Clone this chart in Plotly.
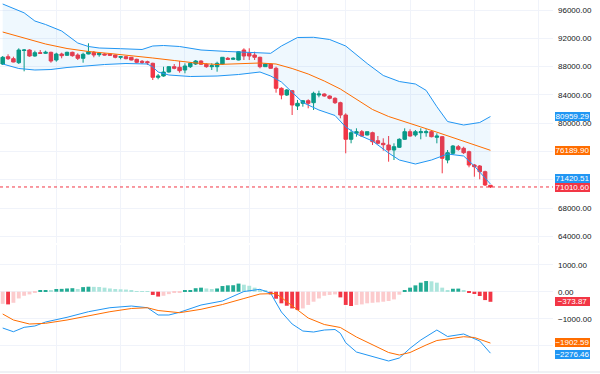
import plotly.graph_objects as go

# ---------------- data ----------------
opens = [88375, 89406, 89124, 88559, 90281, 90352, 89505, 89971, 89886, 90027,
         88940, 89787, 89604, 90027, 89646, 89180, 89787, 90027, 89689, 89787,
         89787, 89646, 89322, 89406, 89322, 89039, 88756, 88700, 88474, 86497,
         86681, 87246, 87994, 87909, 87528, 87994, 88375, 88799, 88333, 87994,
         87994, 88375, 89180, 89039, 88940, 90352, 89886, 89646, 89322, 87994,
         88375, 87768, 84944, 83998, 84605, 82445, 82826, 83193, 82911, 83998,
         84139, 83857, 83532, 82911, 81174, 77743, 78590, 78816, 78350, 78675,
         77545, 77178, 76938, 76232, 76613, 77743, 78816, 78350, 78675, 78675,
         78816, 78025, 78110, 74820, 75766, 76698, 76472, 75992, 74114, 73973,
         73168, 71250]
highs = [89505, 89745, 89406, 90592, 90493, 90451, 90253, 90352, 90253, 90112,
         89971, 89971, 90112, 90112, 89886, 89971, 91297, 90211, 90027, 89886,
         89830, 89680, 89505, 89505, 89364, 89124, 88940, 88841, 88559, 86963,
         87994, 88093, 88375, 88799, 88474, 88615, 88940, 88898, 88474, 88474,
         88700, 89364, 89364, 89322, 90211, 90592, 90592, 90112, 89406, 88474,
         88474, 87994, 85085, 84845, 84704, 83292, 83292, 83391, 84464, 84605,
         84238, 83956, 83673, 83052, 81414, 79155, 79296, 79056, 78816, 78816,
         78209, 77884, 78209, 77178, 77884, 79296, 79155, 79056, 79296, 79155,
         79056, 78590, 78209, 76232, 76938, 76938, 76698, 76133, 74255, 74114,
         73309, 71292]
lows = [88234, 88940, 88615, 88375, 87344, 89406, 89406, 89830, 89787, 88559,
        88700, 89180, 89547, 89406, 88940, 88559, 89745, 89322, 89406, 89604,
        89505, 89180, 89039, 89039, 88898, 88474, 88375, 88234, 86116, 86215,
        86582, 87147, 87627, 87147, 87062, 87810, 88234, 88234, 87853, 87528,
        87288, 88277, 88940, 88940, 88898, 88940, 88940, 88940, 87768, 87952,
        87712, 84323, 83391, 83857, 81174, 81880, 82346, 82120, 81880, 83673,
        83758, 83391, 82727, 80708, 75766, 77178, 78110, 78110, 78300, 76938,
        77037, 76133, 74580, 74820, 76514, 77644, 78110, 78110, 77743, 78110,
        78025, 77178, 72942, 74354, 75526, 76133, 75667, 73789, 72462, 72095,
        71151, 70866]
closes = [89322, 89124, 88658, 90352, 90352, 89505, 89971, 89886, 90027, 88799,
          89787, 89547, 90027, 89547, 89180, 89745, 90112, 89646, 89886, 89646,
          89604, 89322, 89406, 89124, 88940, 88615, 88615, 88559, 86497, 86681,
          87246, 87994, 87768, 87429, 88093, 88474, 88799, 88333, 87994, 88135,
          88474, 89322, 89039, 89180, 90112, 89505, 89505, 89322, 87994, 88375,
          87768, 84944, 83998, 84704, 82586, 82826, 83193, 82826, 84238, 84139,
          83857, 83532, 82911, 81174, 77743, 78675, 78816, 78209, 78816, 77404,
          77178, 76980, 76232, 76698, 77743, 78816, 78209, 78816, 78816, 78816,
          78110, 78209, 75060, 75851, 76797, 76331, 75851, 74114, 73874, 73168,
          71292, 71010.60]

bb_up_idx = [0, 4, 6, 8, 11, 14, 16, 18, 22, 26, 28, 30, 33, 37, 42, 46, 50, 52,
             55, 58, 61, 64, 68, 71, 74, 77, 79, 81, 83, 86, 89, 91]
bb_upper = [96847, 95600, 94447, 93953, 93035, 91340, 90846, 90634, 90535, 90423,
            90917, 90987, 90846, 90352, 90140, 89999, 89886, 90917, 92117, 92145,
            91835, 90917, 88446, 86752, 85900, 85550, 84650, 82346, 80250, 79762,
            80115, 80959.29]
bb_mid_idx = [0, 4, 8, 12, 16, 20, 24, 28, 32, 36, 40, 44, 48, 51, 54, 57, 60, 63,
              66, 69, 72, 75, 78, 81, 84, 87, 91]
bb_middle = [92894, 92046, 91199, 90564, 90140, 89858, 89575, 89222, 88869, 88516,
             88305, 88375, 88516, 88375, 87740, 86963, 85975, 84845, 83433, 81950,
             80962, 80186, 79490, 78750, 78000, 77180, 76189.90]
bb_lo_idx = [0, 3, 6, 9, 12, 15, 19, 23, 27, 28, 29, 31, 35, 40, 44, 48, 50, 52, 54,
             56, 59, 62, 64, 66, 69, 72, 74, 77, 80, 83, 86, 88, 90, 91]
bb_lower = [88375, 87740, 87528, 87599, 87881, 88093, 88305, 88446, 88375, 87952,
            87246, 86822, 86610, 86681, 86893, 87246, 86681, 85834, 84422, 82939,
            81880, 81104, 79480, 78492, 77503, 75808, 74820, 74255, 74820, 75667,
            75385, 73973, 72278, 71420.51]

macd_hist = [-450, -470, -410, -250, -150, -100, -40, 40, 60, 40,
             100, 105, 120, 130, 100, 170, 185, 180, 175, 150,
             120, 100, 90, 80, 50, 25, 15, 5, -120, -180,
             -150, -90, -40, -25, 40, 60, 130, 150, 120, 100,
             120, 210, 235, 240, 300, 260, 220, 150, 60, 40,
             -100, -260, -430, -520, -620, -680, -620, -490, -370, -250,
             -150, -120, -100, -210, -490, -530, -490, -470, -430, -410,
             -395, -370, -345, -285, -110, 60, 150, 235, 335, 395,
             385, 335, 150, 60, 110, 115, 40, -35, -85, -160,
             -310, -373.87]
macd_idx = [0, 2, 4, 6, 8, 12, 16, 20, 24, 27, 29, 31, 33, 37, 41, 45, 48, 50, 52,
            54, 56, 58, 60, 62, 63, 64, 66, 69, 72, 74, 76, 78, 81, 83, 86, 89, 91]
macd_line = [-1345, -1482, -1319, -1270, -1122, -948, -741, -593, -530, -593, -863,
             -863, -763, -493, -344, 7, 89, -59, -752, -1196, -1456, -1493, -1419,
             -1400, -1540, -1890, -2234, -2400, -2567, -2456, -2096, -1789, -1419,
             -1659, -1567, -1826, -2276.46]
signal_idx = [0, 2, 5, 8, 12, 16, 20, 24, 27, 29, 33, 37, 41, 45, 48, 51, 54, 57, 60,
              63, 66, 69, 72, 74, 76, 79, 81, 84, 86, 88, 91]
signal_line = [-826, -1048, -1196, -1170, -1048, -900, -741, -622, -593, -696, -778,
               -652, -474, -252, -85, -67, -530, -974, -1215, -1326, -1678, -1974,
               -2252, -2345, -2252, -1974, -1808, -1726, -1667, -1696, -1902.59]

price_ticks = [64000, 68000, 72000, 76000, 80000, 84000, 88000, 92000, 96000]
price_tick_text = ["64000.00", "68000.00", "", "", "80000.00", "84000.00",
                   "88000.00", "92000.00", "96000.00"]
macd_ticks = [-2000, -1000, 0, 1000]
macd_tick_text = ["", "\u22121000.00", "0.00", "1000.00"]
time_grid = [10, 22, 34, 46, 55, 64, 76, 88, 100]

# ---------------- styling ----------------
UP = "#089981"
DOWN = "#F23645"
BLUE = "#2196F3"
ORANGE = "#FF6D00"
GRID = "#F0F3FA"
TXT = "#131722"
FONT = "Liberation Sans, Arial, sans-serif"

idx = list(range(len(closes)))
W, H = 600, 374
plot_right = 553 / W

hist_colors = []
for i, h in enumerate(macd_hist):
    prev = macd_hist[i - 1] if i > 0 else h
    if h >= 0:
        hist_colors.append("#22AB94" if h > prev else "#ACE5DC")
    else:
        hist_colors.append("#F23645" if h < prev else "#FCCBCD")

fig = go.Figure()

# Bollinger band fill
fig.add_trace(go.Scatter(
    x=bb_up_idx + bb_lo_idx[::-1], y=bb_upper + bb_lower[::-1],
    fill="toself", fillcolor="rgba(33,150,243,0.07)", mode="lines",
    line=dict(width=0), hoverinfo="skip", xaxis="x", yaxis="y"))
fig.add_trace(go.Scatter(x=bb_up_idx, y=bb_upper, mode="lines",
                         line=dict(color=BLUE, width=1), xaxis="x", yaxis="y"))
fig.add_trace(go.Scatter(x=bb_lo_idx, y=bb_lower, mode="lines",
                         line=dict(color=BLUE, width=1), xaxis="x", yaxis="y"))
fig.add_trace(go.Scatter(x=bb_mid_idx, y=bb_middle, mode="lines",
                         line=dict(color=ORANGE, width=1), xaxis="x", yaxis="y"))

fig.add_trace(go.Candlestick(
    x=idx, open=opens, high=highs, low=lows, close=closes,
    increasing=dict(line=dict(color=UP, width=1), fillcolor=UP),
    decreasing=dict(line=dict(color=DOWN, width=1), fillcolor=DOWN),
    whiskerwidth=0, xaxis="x", yaxis="y"))

# MACD pane
fig.add_trace(go.Bar(x=idx, y=macd_hist, marker=dict(color=hist_colors, line=dict(width=0)),
                     width=0.72, xaxis="x2", yaxis="y2"))
fig.add_trace(go.Scatter(x=macd_idx, y=macd_line, mode="lines",
                         line=dict(color=BLUE, width=1), xaxis="x2", yaxis="y2"))
fig.add_trace(go.Scatter(x=signal_idx, y=signal_line, mode="lines",
                         line=dict(color=ORANGE, width=1), xaxis="x2", yaxis="y2"))

xr = [-0.504, 102.67]
axis_common = dict(range=xr, domain=[0, plot_right], showticklabels=False,
                   tickvals=time_grid, showgrid=True, gridcolor=GRID, gridwidth=1,
                   zeroline=False, showline=False, ticks="", fixedrange=True)
ycommon = dict(side="right", showgrid=True, gridcolor=GRID, gridwidth=1, zeroline=False,
               showline=False, ticks="",
               tickfont=dict(size=8, color=TXT, family=FONT), ticklabelstandoff=4)

fig.update_layout(
    width=W, height=H, margin=dict(l=0, r=0, t=0, b=0),
    paper_bgcolor="white", plot_bgcolor="white", showlegend=False,
    font=dict(family=FONT, size=8, color=TXT),
    boxgap=0.35, boxgroupgap=0, bargap=0.2,
    xaxis=dict(**axis_common, anchor="y", rangeslider=dict(visible=False)),
    xaxis2=dict(**axis_common, anchor="y2", matches="x"),
    yaxis=dict(**ycommon, domain=[1 - 243 / H, 1], range=[63100, 97412],
               tickvals=price_ticks, ticktext=price_tick_text, anchor="x"),
    yaxis2=dict(**ycommon, domain=[2 / H, 129 / H], range=[-2974, 1730],
                tickvals=macd_ticks, ticktext=macd_tick_text, anchor="x2"),
)

# last price dotted line
fig.add_shape(type="line", xref="paper", yref="y", x0=0, x1=plot_right,
              y0=closes[-1], y1=closes[-1], line=dict(color=DOWN, width=1, dash="dot"))
# bottom border
fig.add_shape(type="line", xref="paper", yref="paper", x0=0, x1=1, y0=2 / H, y1=2 / H,
              line=dict(color="#E0E3EB", width=1))

def tag(val, color, yref, yshift=0):
    fig.add_annotation(x=555 / W, xref="paper", y=val, yref=yref, xanchor="left",
                       yanchor="middle", text=f"{val:.2f}".replace("-", "\u2212"),
                       showarrow=False, bgcolor=color, borderpad=0, borderwidth=0,
                       height=9, width=35, align="center", yshift=yshift,
                       font=dict(color="white", size=8, family=FONT))

tag(bb_upper[-1], BLUE, "y")
tag(bb_middle[-1], ORANGE, "y")
tag(bb_lower[-1], BLUE, "y", yshift=6)
tag(closes[-1], DOWN, "y", yshift=-1)
tag(macd_hist[-1], DOWN, "y2")
tag(signal_line[-1], ORANGE, "y2", yshift=1)
tag(macd_line[-1], BLUE, "y2", yshift=-1)

fig.write_html("out.html", config={"displayModeBar": False},
               post_script="document.body.style.margin='0';document.body.style.overflow='hidden';")
